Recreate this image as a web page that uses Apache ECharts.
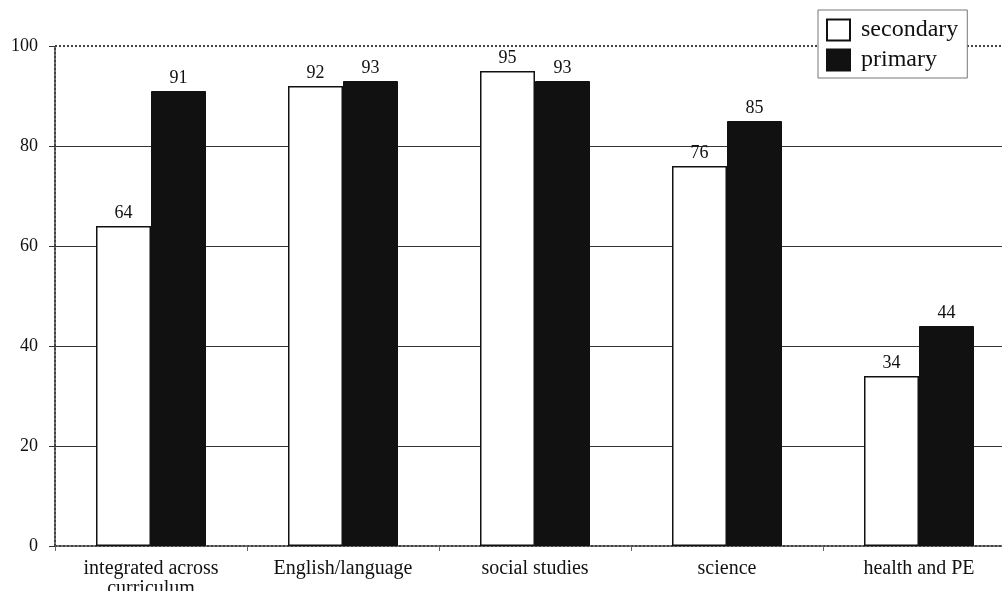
<!DOCTYPE html>
<html>
<head>
<meta charset="utf-8">
<script src="https://cdn.jsdelivr.net/npm/echarts@6/dist/echarts.min.js"></script>
<style>
  html, body { margin: 0; padding: 0; background: #fff; }
  #chart { width: 1002px; height: 591px; }
</style>
</head>
<body>
<div id="chart"></div>
<script>
const categories = ['integrated across\ncurriculum', 'English/language', 'social studies', 'science', 'health and PE']
const secondary = [64, 92, 95, 76, 34]
const primary = [91, 93, 93, 85, 44]
const yTicks = [0, 20, 40, 60, 80, 100]

const serif = '"Liberation Serif", "DejaVu Serif", serif'

const chart = echarts.init(document.getElementById('chart'))

const barLabel = {
    show: true,
    position: 'top',
    distance: 4,
    color: '#111',
    fontFamily: serif,
    fontSize: 18,
}

chart.setOption({
    animation: false,
    backgroundColor: '#fff',
    grid: { left: 55, top: 46, width: 960, height: 500, show: false, outerBoundsMode: 'none' },
    legend: {
        orient: 'vertical',
        left: 818,
        top: 10,
        icon: 'rect',
        itemWidth: 23,
        itemHeight: 21,
        itemGap: 6,
        padding: [8, 9, 6, 8],
        backgroundColor: '#fff',
        borderColor: '#777',
        borderWidth: 1,
        textStyle: { fontFamily: serif, fontSize: 24, color: '#111', padding: [0, 0, 0, 6] },
        data: ['secondary', 'primary'],
        z: 10,
    },
    xAxis: {
        type: 'category',
        data: categories,
        axisLine: { lineStyle: { color: '#444', type: 'dotted', width: 2 } },
        axisTick: { show: true, length: 5, lineStyle: { color: '#666' } },
        axisLabel: { fontFamily: serif, fontSize: 20, color: '#111', margin: 13, lineHeight: 20 },
    },
    yAxis: {
        type: 'value',
        min: 0,
        max: 100,
        interval: 20,
        axisLine: { show: true, lineStyle: { color: '#444', type: 'dotted', width: 2 } },
        axisTick: { show: true, length: 6, lineStyle: { color: '#333' } },
        axisLabel: {
            fontFamily: serif, fontSize: 18, color: '#111', margin: 17,
            formatter: v => yTicks.includes(v) ? String(v) : '',
        },
        splitLine: {
            show: true,
            lineStyle: { color: ['transparent', '#333', '#333', '#333', '#333', 'transparent'], width: 1 },
        },
    },
    series: [
        {
            name: 'secondary',
            type: 'bar',
            data: secondary,
            barWidth: 55,
            barGap: '0%',
            itemStyle: { color: '#fff', borderColor: '#111', borderWidth: 1.5 },
            label: barLabel,
            z: 3,
            markLine: {
                silent: true,
                symbol: 'none',
                label: { show: false },
                lineStyle: { color: '#444', type: 'dotted', width: 2 },
                data: [{ yAxis: 100 }],
            },
        },
        {
            name: 'primary',
            type: 'bar',
            data: primary,
            barWidth: 55,
            itemStyle: { color: '#111', borderColor: '#111', borderWidth: 1 },
            label: barLabel,
            z: 3,
        },
    ],
})
</script>
</body>
</html>
